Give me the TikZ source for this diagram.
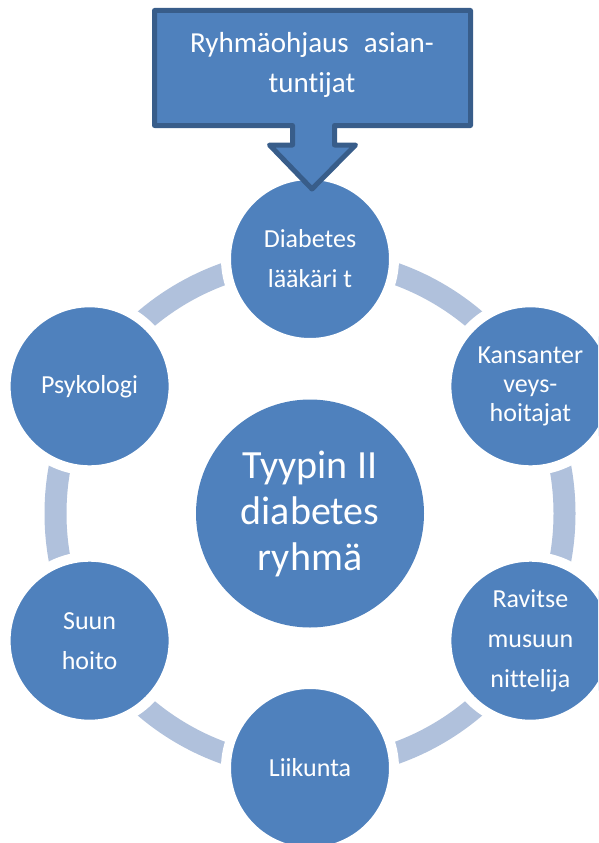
\documentclass[tikz,border=0pt]{standalone}
\usepackage{fontspec}
\setmainfont[Ligatures=NoCommon]{Carlito}
\definecolor{nodeblue}{RGB}{79,129,189}
\definecolor{ringblue}{RGB}{176,193,220}
\definecolor{edgeblue}{RGB}{56,93,138}
\begin{document}
\begin{tikzpicture}[x=1pt,y=-1pt,
  member/.style={circle, fill=nodeblue, draw=white, line width=10pt, minimum size=168pt,
    inner sep=0pt, text=white, align=center, font=\fontsize{26}{40}\selectfont},
  hub/.style={circle, fill=nodeblue, minimum size=228pt, inner sep=0pt, text=white,
    align=center, font=\fontsize{40}{46}\selectfont},
  ringline/.style={draw=ringblue, line width=22pt},
  calloutshape/.style={fill=nodeblue, draw=edgeblue, line width=5pt, line join=round}]
\useasboundingbox (0,0) rectangle (598,843);
\clip (0,0) rectangle (598,843);
\fill[white] (0,0) rectangle (598,843);
\coordinate (c) at (310,513.5);
\draw[ringline] (c) circle[radius=254.5pt];
\node[hub] (hub) at (c) {Tyypin II\\diabetes\\ryhmä};
\node[member] (laak) at (310,259) {Diabetes\\lääkäri t};
\node[member, font=\fontsize{26}{29}\selectfont] (kans) at (530.4,386.3) {Kansanter\\veys-\\hoitajat};
\node[member] (ravi) at (530.4,640.7) {Ravitse\\musuun\\nittelija};
\node[member] (liik) at (310,768) {Liikunta};
\node[member] (suun) at (89.6,640.7) {Suun\\hoito};
\node[member] (psyk) at (89.6,386.3) {Psykologi};
\draw[calloutshape] (154.5,10.5) -- (470.5,10.5) -- (470.5,125.5) -- (334.5,125.5)
  -- (334.5,145) -- (355.5,145) -- (312,189) -- (269.5,145) -- (292.5,145)
  -- (292.5,125.5) -- (154.5,125.5) -- cycle;
\node[text=white, align=center, font=\fontsize{29}{40}\selectfont] (callout) at (312,65)
  {Ryhmäohjaus\hspace{0.3em} asian-\\tuntijat};
\end{tikzpicture}
\end{document}
